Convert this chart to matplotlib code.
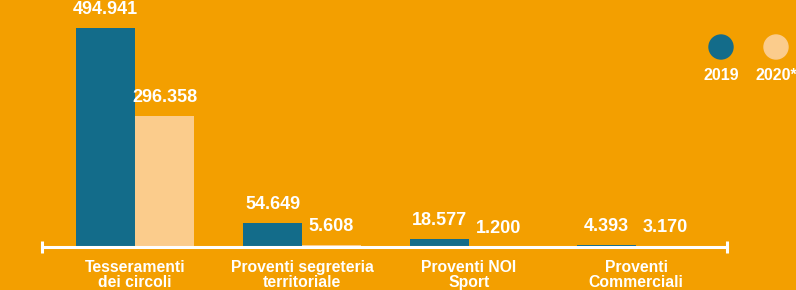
import matplotlib
matplotlib.use("Agg")
import matplotlib.pyplot as plt
from matplotlib.patches import Ellipse
import numpy as np

categories = ["Tesseramenti\ndei circoli", "Proventi segreteria\nterritoriale",
              "Proventi NOI\nSport", "Proventi\nCommerciali"]
series_names = ["2019", "2020*"]
values_2019 = [494941, 54649, 18577, 4393]
values_2020 = [296358, 5608, 1200, 3170]

BG = "#F39F00"
C1 = "#136C8A"
C2 = "#FBCC8C"

plt.rcParams["font.family"] = ["Liberation Sans", "DejaVu Sans"]
plt.rcParams["font.weight"] = "bold"

W, H = 796, 290
fig = plt.figure(figsize=(W / 100, H / 100), dpi=100, facecolor=BG)
ax = fig.add_axes([42 / W, (H - 247) / H, (727 - 42) / W, (247 - 28) / H])
ax.set_facecolor(BG)

x = np.arange(len(categories))
bw = 59 / 167
ax.bar(x - bw / 2, values_2019, width=bw, color=C1, zorder=2)
ax.bar(x + bw / 2, values_2020, width=bw, color=C2, zorder=2)

def fmt(v):
    return f"{v:,}".replace(",", ".")

for xi, v in zip(x, values_2019):
    ax.annotate(fmt(v), (xi - bw / 2, v), xytext=(0, 7), textcoords="offset points",
                ha="center", va="bottom", color="white", fontsize=13,
                fontweight="bold", annotation_clip=False)
for xi, v in zip(x, values_2020):
    ax.annotate(fmt(v), (xi + bw / 2, v), xytext=(0, 7), textcoords="offset points",
                ha="center", va="bottom", color="white", fontsize=13,
                fontweight="bold", annotation_clip=False)

x0, x1 = -93 / 167, 3 + 91 / 167
ax.set_xlim(x0, x1)
ax.set_ylim(0, max(values_2019 + values_2020))

for s in ["top", "right", "left"]:
    ax.spines[s].set_visible(False)
ax.spines["bottom"].set_color("white")
ax.spines["bottom"].set_linewidth(2.2)
ax.spines["bottom"].set_zorder(3)
ax.set_yticks([])
ax.set_xticks(x)
ax.set_xticklabels(categories, color="white", fontsize=11.3, fontweight="bold",
                   linespacing=1.0)
ax.tick_params(axis="x", length=0, pad=9.5)

trans = ax.get_xaxis_transform()
ax.vlines([x0, x1], -0.028, 0.028, transform=trans, color="white", lw=2.2,
          clip_on=False, zorder=3)

# legend
for name, col, cx in zip(series_names, [C1, C2], [721, 776]):
    e = Ellipse((cx / W, (H - 47) / H), 24 / W, 24 / H, transform=fig.transFigure,
                color=col)
    fig.patches.append(e)
    fig.text(cx / W, (H - 75) / H, name, color="white", fontsize=11.5,
             fontweight="bold", ha="center", va="center")

fig.savefig("out.png", dpi=100, facecolor=BG)
